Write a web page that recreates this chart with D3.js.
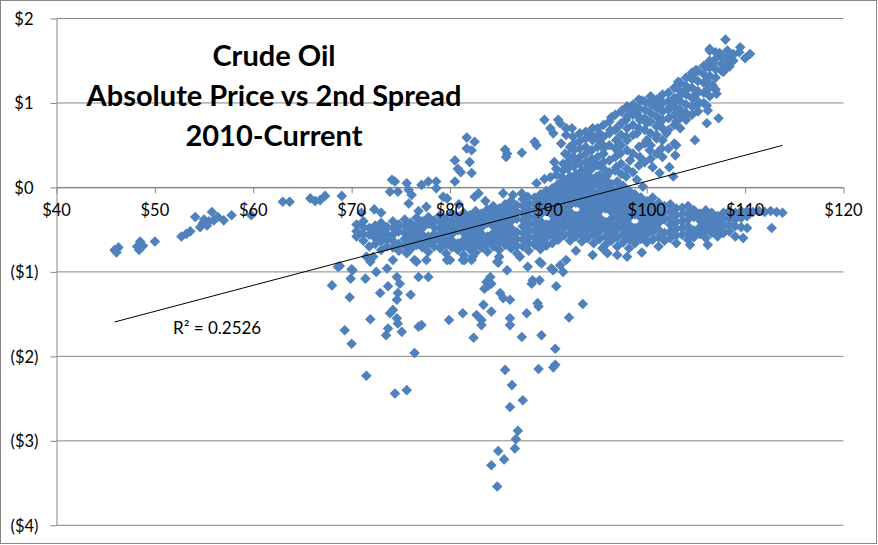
<!DOCTYPE html>
<html>
<head>
<meta charset="utf-8">
<script src="https://cdn.jsdelivr.net/npm/d3@7"></script>
<style>
  body { margin: 0; background: #fff; }
  svg { display: block; }
  text { font-family: Lato, "Noto Sans", sans-serif; }
</style>
</head>
<body>
<div id="chart"></div>
<script>
// Crude oil: absolute price (x) vs 2nd spread (y)

const xTicks = [40, 50, 60, 70, 80, 90, 100, 110, 120];
const yTicks = [-4, -3, -2, -1, 0, 1, 2];
const titleLines = ["Crude Oil", "Absolute Price vs 2nd Spread", "2010-Current"];

// linear trendline as shown on the chart
const trendSlope = 0.0308;
const trendIntercept = -3.007;
const rSquaredLabel = "R\u00b2 = 0.2526";

// sparse low-price tail
const leftTail = [
  [45.9, -0.74], [46.3, -0.71], [46.1, -0.77], [48.2, -0.70], [48.5, -0.64], [48.8, -0.69],
  [48.4, -0.74], [50.0, -0.64], [52.7, -0.58], [53.2, -0.55], [53.6, -0.52], [54.1, -0.35],
  [54.6, -0.47], [54.9, -0.42], [55.3, -0.45], [55.0, -0.38], [55.5, -0.40], [55.8, -0.29],
  [56.0, -0.39], [56.4, -0.35], [57.0, -0.39], [57.8, -0.33], [59.8, -0.33], [63.0, -0.17],
  [63.7, -0.17], [65.8, -0.13], [66.3, -0.16], [66.8, -0.15], [67.3, -0.10], [69.0, -0.10]
];

// scattered points just above the main band
const aboveBand = [
  [71.0, -0.30], [72.3, -0.26], [73.0, -0.30], [73.9, -0.05], [74.1, 0.09], [74.4, 0.07],
  [74.7, -0.05], [75.6, 0.05], [75.8, -0.03], [75.8, -0.19], [76.1, -0.09], [76.8, -0.28],
  [77.1, 0.03], [77.6, -0.23], [77.8, 0.07], [78.6, 0.07], [78.6, -0.01], [79.3, -0.11],
  [79.7, -0.13], [80.5, 0.07], [80.9, -0.20], [82.5, -0.11], [82.9, -0.07], [83.6, -0.16],
  [85.4, -0.07], [86.4, -0.09], [87.3, -0.07], [87.9, -0.11]
];

// small cluster above zero, $80-$92
const upperCluster = [
  [81.7, 0.59], [82.5, 0.54], [81.7, 0.46], [82.2, 0.44], [80.5, 0.32], [82.0, 0.30],
  [80.8, 0.22], [81.1, 0.18], [82.2, 0.17], [85.6, 0.45], [85.7, 0.36], [87.3, 0.41],
  [85.8, 0.40], [88.6, 0.54], [88.8, 0.50], [89.6, 0.80], [91.0, 0.80], [90.5, 0.64],
  [91.3, 0.52], [90.2, 0.70], [91.8, 0.62], [92.4, 0.70], [91.2, 0.76], [91.8, 0.70],
  [90.8, 0.22], [90.6, 0.30], [91.4, 0.12], [88.8, 0.05], [89.6, 0.10], [90.2, 0.12],
  [90.8, 0.15]
];

// low outliers, including the spike near $85
const lowerTail = [
  [68.8, -0.93], [68.0, -1.16], [70.0, -0.97], [69.9, -1.08], [69.8, -1.30], [71.4, -1.08],
  [71.5, -0.82], [71.9, -0.88], [72.5, -1.00], [72.9, -1.25], [71.9, -1.56], [69.3, -1.69],
  [70.0, -1.85], [71.5, -2.23], [73.7, -1.17], [73.6, -0.96], [74.6, -1.06], [74.9, -1.14],
  [74.7, -1.25], [74.6, -1.33], [76.0, -1.27], [74.2, -1.45], [73.9, -1.49], [74.6, -1.55],
  [74.7, -1.61], [73.7, -1.67], [73.5, -1.75], [75.1, -1.71], [76.8, -1.65], [77.1, -1.63],
  [76.4, -1.96], [74.4, -2.44], [75.6, -2.40], [76.4, -0.86], [77.6, -0.86], [76.8, -1.06],
  [77.8, -1.06], [80.0, -0.86], [79.9, -1.57], [81.5, -0.86], [82.2, -0.86], [81.3, -1.49],
  [82.4, -1.78], [82.7, -1.51], [83.2, -1.57], [83.2, -1.63], [83.4, -1.39], [84.2, -1.47],
  [83.5, -1.20], [83.7, -1.12], [84.1, -1.06], [84.2, -1.14], [84.9, -0.89], [85.8, -0.98],
  [85.1, -1.25], [85.4, -1.31], [86.1, -1.33], [86.1, -1.55], [86.1, -1.63], [87.3, -1.77],
  [87.8, -1.49], [88.9, -1.37], [89.0, -1.41], [87.9, -0.94], [88.3, -1.14], [89.1, -1.10],
  [89.3, -0.90], [90.3, -0.96], [90.8, -1.17], [91.2, -0.92], [91.5, -1.00], [91.8, -0.86],
  [89.3, -1.75], [92.1, -1.54], [93.5, -1.38], [90.7, -1.91], [90.7, -2.10], [90.5, -2.13],
  [89.0, -2.15], [85.6, -2.16], [86.3, -2.34], [86.1, -2.60], [87.4, -2.52], [86.9, -2.88],
  [86.7, -2.98], [86.6, -3.09], [84.9, -3.12], [85.5, -3.22], [84.2, -3.29], [84.8, -3.54],
  [72.2, -0.82], [74.2, -0.86], [75.6, -0.78], [76.6, -0.88], [79.7, -0.86], [81.3, -0.86],
  [82.3, -0.82], [84.8, -0.88], [87.1, -0.82], [89.1, -0.88], [90.5, -0.98], [88.4, -1.10],
  [83.9, -1.16], [70.1, -0.98], [68.6, -0.94], [97.0, -0.80], [98.0, -0.82], [99.5, -0.77],
  [99.8, -0.62], [104.4, -0.68], [106.2, -0.68], [109.8, -0.60], [112.7, -0.48],
  [92.8, -0.75], [94.5, -0.80], [96.0, -0.78], [95.5, -0.72]
];

// main negative band: [price, [spreads...]]
const bandColumns = [
  [70.5, [-0.44, -0.52, -0.58]],
  [71.2, [-0.40, -0.47, -0.55, -0.63]],
  [71.8, [-0.48, -0.56, -0.70]],
  [72.4, [-0.45, -0.53, -0.60, -0.67]],
  [73.0, [-0.42, -0.50, -0.57, -0.64, -0.74]],
  [73.6, [-0.47, -0.55, -0.62, -0.70]],
  [74.2, [-0.40, -0.48, -0.56, -0.63, -0.71]],
  [74.8, [-0.44, -0.52, -0.67, -0.75]],
  [75.4, [-0.38, -0.46, -0.54, -0.61, -0.69]],
  [76.0, [-0.42, -0.50, -0.57, -0.65, -0.73]],
  [76.6, [-0.36, -0.45, -0.53, -0.60, -0.68]],
  [77.2, [-0.40, -0.48, -0.56, -0.63, -0.71]],
  [77.8, [-0.35, -0.43, -0.58, -0.66, -0.76]],
  [78.4, [-0.39, -0.47, -0.55, -0.62, -0.70]],
  [79.0, [-0.33, -0.41, -0.49, -0.57, -0.64, -0.72]],
  [79.6, [-0.37, -0.45, -0.53, -0.60, -0.68, -0.78]],
  [80.2, [-0.31, -0.40, -0.48, -0.55, -0.63, -0.71]],
  [80.8, [-0.35, -0.43, -0.51, -0.66, -0.74]],
  [81.4, [-0.30, -0.38, -0.46, -0.54, -0.62, -0.70, -0.80]],
  [82.0, [-0.33, -0.41, -0.49, -0.57, -0.65, -0.73]],
  [82.6, [-0.28, -0.36, -0.44, -0.52, -0.60, -0.68, -0.77]],
  [83.2, [-0.31, -0.39, -0.47, -0.55, -0.63, -0.71]],
  [83.8, [-0.26, -0.34, -0.42, -0.58, -0.66, -0.76]],
  [84.4, [-0.22, -0.30, -0.38, -0.46, -0.54, -0.62, -0.70]],
  [85.0, [-0.25, -0.33, -0.41, -0.49, -0.57, -0.65, -0.74, -0.82]],
  [85.6, [-0.20, -0.28, -0.36, -0.44, -0.52, -0.60, -0.68]],
  [86.2, [-0.16, -0.24, -0.32, -0.40, -0.48, -0.56, -0.64, -0.72]],
  [86.8, [-0.21, -0.29, -0.37, -0.53, -0.61, -0.69, -0.78]],
  [87.4, [-0.14, -0.22, -0.30, -0.38, -0.46, -0.54, -0.62, -0.70]],
  [88.0, [-0.18, -0.26, -0.34, -0.42, -0.50, -0.58, -0.66, -0.75]],
  [88.6, [-0.12, -0.20, -0.28, -0.36, -0.44, -0.52, -0.60, -0.68]],
  [89.2, [-0.08, -0.16, -0.24, -0.32, -0.40, -0.48, -0.56, -0.64, -0.73]],
  [89.8, [-0.04, -0.12, -0.20, -0.28, -0.44, -0.52, -0.60, -0.69]],
  [90.4, [-0.01, -0.09, -0.17, -0.25, -0.33, -0.41, -0.49, -0.57, -0.66]],
  [91.0, [0.04, -0.05, -0.13, -0.21, -0.29, -0.37, -0.45, -0.53, -0.62]],
  [91.6, [0.08, 0.00, -0.08, -0.16, -0.24, -0.32, -0.40, -0.48, -0.57]],
  [92.2, [0.12, 0.03, -0.05, -0.13, -0.21, -0.29, -0.37, -0.45, -0.54, -0.63]],
  [92.8, [0.16, 0.07, -0.02, -0.10, -0.18, -0.34, -0.42, -0.50, -0.58]],
  [93.4, [0.20, 0.11, 0.02, -0.06, -0.14, -0.22, -0.30, -0.38, -0.46, -0.55, -0.64]],
  [94.0, [0.24, 0.15, 0.06, -0.03, -0.11, -0.19, -0.27, -0.35, -0.43, -0.51, -0.60]],
  [94.6, [0.10, 0.02, -0.07, -0.15, -0.23, -0.31, -0.39, -0.47, -0.56, -0.66]],
  [95.2, [0.14, 0.05, -0.04, -0.12, -0.20, -0.28, -0.36, -0.44, -0.52, -0.61]],
  [95.8, [0.09, 0.00, -0.09, -0.17, -0.25, -0.41, -0.49, -0.58, -0.68]],
  [96.4, [0.04, -0.05, -0.13, -0.21, -0.29, -0.37, -0.45, -0.54, -0.63]],
  [97.0, [0.07, -0.02, -0.10, -0.18, -0.26, -0.34, -0.42, -0.50, -0.59, -0.70]],
  [97.6, [0.02, -0.07, -0.15, -0.23, -0.31, -0.39, -0.47, -0.56, -0.65]],
  [98.2, [-0.04, -0.12, -0.20, -0.28, -0.36, -0.44, -0.52, -0.61, -0.72]],
  [98.8, [-0.08, -0.16, -0.24, -0.32, -0.48, -0.57, -0.66]],
  [99.4, [-0.12, -0.20, -0.28, -0.36, -0.44, -0.52, -0.61]],
  [100.0, [-0.16, -0.24, -0.32, -0.40, -0.48, -0.56, -0.65]],
  [100.6, [-0.12, -0.21, -0.29, -0.37, -0.45, -0.53, -0.62]],
  [101.2, [-0.18, -0.26, -0.34, -0.42, -0.50, -0.59, -0.70]],
  [101.8, [-0.22, -0.30, -0.38, -0.54, -0.63]],
  [102.4, [-0.20, -0.28, -0.36, -0.44, -0.52, -0.60]],
  [103.0, [-0.25, -0.33, -0.41, -0.49, -0.57, -0.66]],
  [103.6, [-0.24, -0.32, -0.40, -0.48, -0.56]],
  [104.2, [-0.22, -0.30, -0.38, -0.46, -0.54, -0.62]],
  [104.8, [-0.27, -0.35, -0.51, -0.59]],
  [105.4, [-0.31, -0.39, -0.47, -0.55]],
  [106.0, [-0.27, -0.35, -0.43, -0.51, -0.60]],
  [106.6, [-0.30, -0.38, -0.46, -0.54]],
  [107.2, [-0.34, -0.42, -0.50, -0.58]],
  [107.8, [-0.30, -0.38, -0.46, -0.54]],
  [108.4, [-0.28, -0.36, -0.44, -0.52]],
  [109.0, [-0.30, -0.38, -0.46, -0.58]],
  [109.6, [-0.28, -0.36, -0.47]],
  [110.2, [-0.28, -0.34, -0.48]],
  [110.8, [-0.29]],
  [111.4, [-0.28]],
  [112.0, [-0.29]],
  [112.6, [-0.28]],
  [113.2, [-0.29]],
  [113.8, [-0.30]]
];

// rising upper branch: [price, [spreads...]]
const branchColumns = [
  [91.5, [0.20, 0.28]],
  [92.0, [0.22, 0.30, 0.38]],
  [92.6, [0.25, 0.35, 0.44, 0.52]],
  [93.2, [0.28, 0.36, 0.46, 0.55]],
  [93.8, [0.30, 0.40, 0.48, 0.58, 0.66]],
  [94.4, [0.22, 0.34, 0.44, 0.62]],
  [95.0, [0.26, 0.36, 0.48, 0.58, 0.70]],
  [95.6, [0.22, 0.30, 0.46, 0.60, 0.74]],
  [96.2, [0.18, 0.32, 0.50, 0.64, 0.78]],
  [96.8, [0.20, 0.36, 0.46, 0.68, 0.86]],
  [97.4, [0.16, 0.28, 0.50, 0.62, 0.76, 0.90]],
  [98.0, [0.22, 0.44, 0.56, 0.70, 0.84, 0.96]],
  [98.6, [0.18, 0.40, 0.62, 0.74, 0.86, 0.98]],
  [99.2, [0.26, 0.48, 0.70, 0.84, 0.94, 1.04]],
  [99.8, [0.30, 0.52, 0.68, 0.82, 0.92, 1.02]],
  [100.4, [0.34, 0.50, 0.64, 0.78, 0.88, 0.98, 1.08]],
  [101.0, [0.40, 0.62, 0.72, 0.84, 0.94, 1.04]],
  [101.6, [0.36, 0.56, 0.70, 0.80, 0.90, 1.00, 1.10]],
  [102.2, [0.46, 0.68, 0.82, 0.92, 1.02, 1.12]],
  [102.8, [0.52, 0.74, 0.86, 0.96, 1.06, 1.18]],
  [103.4, [0.70, 0.82, 0.92, 1.02, 1.14, 1.24]],
  [104.0, [0.80, 0.88, 0.98, 1.10, 1.20, 1.30]],
  [104.6, [0.86, 0.96, 1.06, 1.18, 1.28, 1.36]],
  [105.2, [0.90, 1.02, 1.14, 1.26, 1.38]],
  [105.8, [1.00, 1.12, 1.24, 1.34, 1.44]],
  [106.4, [1.08, 1.20, 1.32, 1.42, 1.50, 1.62]],
  [107.0, [1.16, 1.30, 1.40, 1.52, 1.60]],
  [107.6, [1.38, 1.46, 1.56]],
  [108.2, [1.44, 1.52, 1.62]],
  [108.8, [1.50, 1.58]],
  [109.4, [1.60]]
];

// loose points around the upper branch
const branchPoints = [
  [108.0, 1.75], [106.4, 1.64], [109.5, 1.66], [110.5, 1.58], [110.0, 1.53], [107.4, 1.59],
  [108.1, 1.53], [108.8, 1.57], [108.4, 1.43], [107.8, 1.37], [106.7, 1.47], [106.1, 1.43],
  [105.0, 1.39], [104.7, 1.33], [106.1, 1.27], [106.7, 1.21], [107.1, 1.11], [106.1, 1.15],
  [105.1, 1.11], [104.0, 1.15], [103.2, 1.25], [103.4, 1.09], [102.7, 1.03], [101.3, 1.05],
  [99.5, 1.03], [100.3, 1.01], [101.2, 0.97], [102.3, 0.95], [103.4, 0.91], [104.0, 0.86],
  [105.1, 0.97], [106.1, 0.97], [106.2, 0.91], [107.3, 0.82], [106.1, 0.76], [104.9, 0.56],
  [103.0, 0.78], [101.3, 0.76], [100.0, 0.76], [99.0, 0.88], [99.3, 0.80], [98.3, 0.93],
  [97.5, 0.91], [96.4, 0.83], [97.9, 0.80], [97.1, 0.72], [96.3, 0.68], [95.2, 0.64],
  [94.5, 0.70], [94.5, 0.56], [95.4, 0.52], [96.9, 0.56], [97.9, 0.60], [99.0, 0.64],
  [100.0, 0.56], [101.0, 0.58], [102.0, 0.64], [101.5, 0.46], [103.0, 0.50], [102.9, 0.38],
  [100.3, 0.44], [99.3, 0.36], [98.3, 0.32], [96.9, 0.24], [100.6, 0.24], [102.3, 0.24],
  [101.3, 0.17], [102.7, 0.13], [97.3, 0.40], [95.6, 0.40], [94.5, 0.30], [93.2, 0.64],
  [92.5, 0.60], [92.2, 0.48], [91.7, 0.40], [92.9, 0.32], [93.9, 0.20], [93.2, 0.13],
  [92.2, 0.13], [94.9, 0.13], [95.9, 0.13], [97.9, 0.13], [99.0, 0.09], [99.6, 0.01],
  [91.8, 0.70]
];

const W = 878, H = 545;
const blue = "#4F81BD";
const gray = "#868686";

const points = [
  ...leftTail, ...aboveBand, ...upperCluster, ...lowerTail, ...branchPoints,
  ...bandColumns.flatMap(([px, ys]) => ys.map(v => [px, v])),
  ...branchColumns.flatMap(([px, ys]) => ys.map(v => [px, v]))
];

const x = d3.scaleLinear().domain([40, 120]).range([56.5, 843.5]);
const y = d3.scaleLinear().domain([-4, 2]).range([525.3, 18.5]);

const svg = d3.select("#chart").append("svg")
  .attr("width", W)
  .attr("height", H);

svg.append("rect")
  .attr("x", 0.5).attr("y", 0.5)
  .attr("width", W - 2).attr("height", H - 2)
  .attr("fill", "#fff")
  .attr("stroke", gray);

// horizontal gridlines
svg.append("g").selectAll("line")
  .data(yTicks)
  .join("line")
  .attr("x1", x(40)).attr("x2", x(120))
  .attr("y1", d => y(d)).attr("y2", d => y(d))
  .attr("stroke", gray);

// y axis
const fmt = d => d < 0 ? `($${-d})` : `$${d}`;
const yAxisG = svg.append("g")
  .attr("transform", `translate(${x(40)},0)`)
  .call(d3.axisLeft(y).tickValues(yTicks).tickSize(6).tickSizeOuter(0).tickFormat(fmt));

yAxisG.selectAll(".tick text")
  .attr("x", d => d < 0 ? -18 : -23)
  .attr("dy", "0.35em")
  .attr("font-size", 16.5)
  .attr("font-family", "Lato, sans-serif")
  .attr("fill", "#000");

// x axis line and ticks at zero (labels drawn later, above the markers)
const xAxisG = svg.append("g")
  .attr("transform", `translate(0,${y(0)})`)
  .call(d3.axisBottom(x).tickValues(xTicks).tickSize(6).tickSizeOuter(0).tickFormat(""));

[yAxisG, xAxisG].forEach(g => {
  g.select(".domain").attr("stroke", gray);
  g.selectAll(".tick line").attr("stroke", gray);
});

// markers
const diamond = d3.symbol(d3.symbolSquare, 56);
svg.append("g").selectAll("path")
  .data(points)
  .join("path")
  .attr("d", diamond)
  .attr("transform", d => `translate(${x(d[0])},${y(d[1])}) rotate(45)`)
  .attr("fill", blue);

// trendline
const xExt = d3.extent(points, d => d[0]);
const line = d3.line()
  .x(d => x(d))
  .y(d => y(trendIntercept + trendSlope * d));
svg.append("path")
  .datum(xExt)
  .attr("d", line)
  .attr("fill", "none")
  .attr("stroke", "#000")
  .attr("stroke-width", 1);

// x tick labels on top of the markers
svg.append("g").selectAll("text")
  .data(xTicks)
  .join("text")
  .attr("x", d => x(d))
  .attr("y", y(0) + 29)
  .attr("text-anchor", "middle")
  .attr("font-size", 16.5)
  .attr("fill", "#000")
  .text(d => `$${d}`);

// R squared label
svg.append("text")
  .attr("x", 173).attr("y", 334)
  .attr("font-size", 17)
  .text(rSquaredLabel);

// title
svg.append("text")
  .attr("text-anchor", "middle")
  .attr("font-weight", "bold")
  .attr("font-size", 29)
  .selectAll("tspan")
  .data(titleLines)
  .join("tspan")
  .attr("x", 274)
  .attr("y", (d, i) => 66 + i * 40)
  .text(d => d);
</script>
</body>
</html>
